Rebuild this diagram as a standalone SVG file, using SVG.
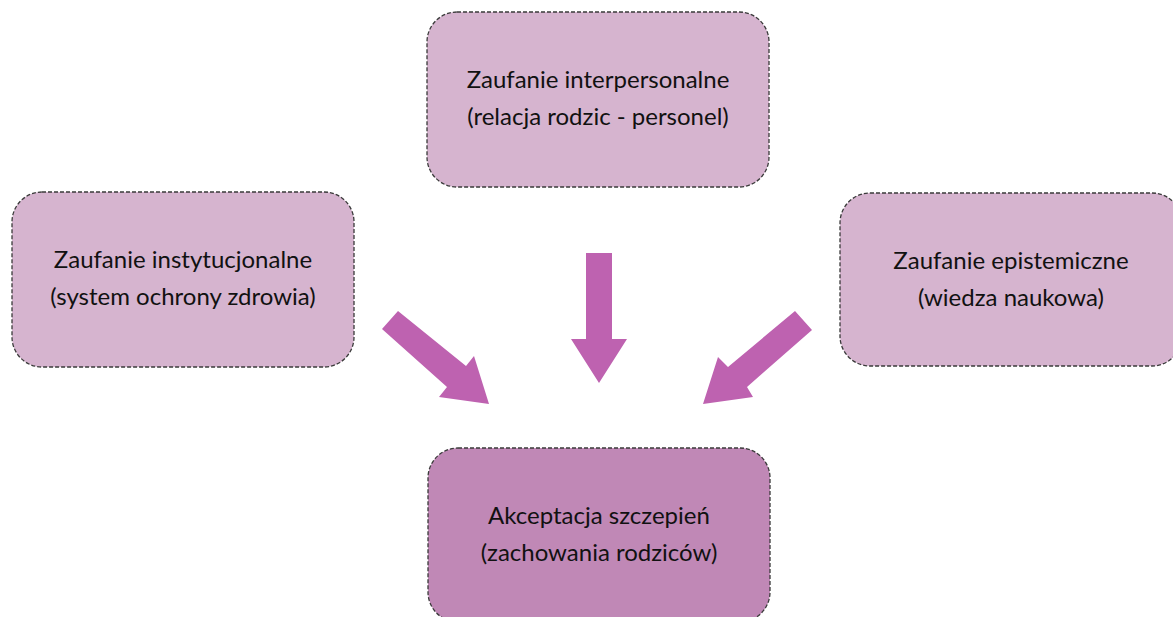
<svg xmlns="http://www.w3.org/2000/svg" width="1173" height="617" viewBox="0 0 1173 617">
<style>
.box{fill:#D6B4CF;stroke:#3a3a3a;stroke-width:1.3;stroke-dasharray:4 2}
.main{fill:#C088B6}
.t{font-family:Lato,"Liberation Sans",sans-serif;font-size:24px;fill:#111111;text-anchor:middle}
.arr{fill:#BE62B0}
</style>
<rect width="1173" height="617" fill="#ffffff"/>
<g id="node-interpersonal">
<rect class="box" x="427" y="12" width="342" height="175" rx="30"/>
<text class="t" x="598" y="88">Zaufanie interpersonalne</text>
<text class="t" x="598" y="125">(relacja rodzic - personel)</text>
</g>
<g id="node-institutional">
<rect class="box" x="12" y="192" width="342" height="175" rx="30"/>
<text class="t" x="183" y="268">Zaufanie instytucjonalne</text>
<text class="t" x="183" y="305">(system ochrony zdrowia)</text>
</g>
<g id="node-epistemic">
<rect class="box" x="840" y="193" width="342" height="173" rx="30"/>
<text class="t" x="1011" y="269">Zaufanie epistemiczne</text>
<text class="t" x="1011" y="306">(wiedza naukowa)</text>
</g>
<g id="node-acceptance">
<rect class="box main" x="428" y="448" width="342" height="174" rx="30"/>
<text class="t" x="599" y="524">Akceptacja szczepień</text>
<text class="t" x="599" y="561">(zachowania rodziców)</text>
</g>
<g id="connectors">
<polygon class="arr" points="586,253 612,253 612,339 627,339 599,383 571,339 586,339"/>
<polygon class="arr" points="398,311 466,366 474,356 489,404 439,397 447,387 382,329"/>
<polygon class="arr" points="795,311 812,330 747,387 753,397 703,404 718,357 728,367"/>
</g>
</svg>
